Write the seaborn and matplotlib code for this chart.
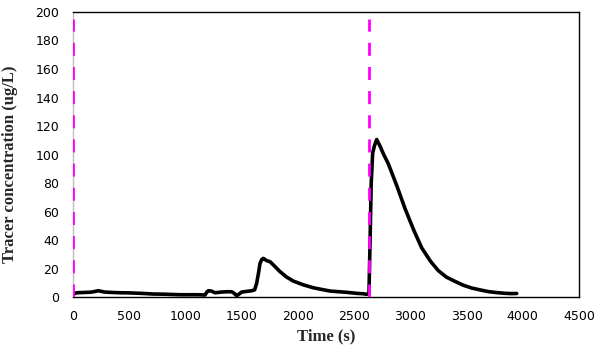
import seaborn as sns
import matplotlib.pyplot as plt
import pandas as pd

# tracer breakthrough curve
time_s = [0, 33, 100, 160, 225, 280, 350, 418, 500, 600, 714, 800, 880, 952, 1030, 1100,
          1150, 1174, 1190, 1203, 1230, 1263, 1300, 1322, 1370, 1411, 1435, 1456, 1475,
          1500, 1550, 1589, 1615, 1633, 1650, 1663, 1680, 1693, 1723, 1752, 1782, 1841,
          1900, 1959, 2050, 2137, 2200, 2286, 2350, 2434, 2520, 2580, 2612, 2632, 2642,
          2652, 2665, 2680, 2701, 2730, 2760, 2804, 2880, 2953, 3030, 3101, 3180, 3249,
          3320, 3397, 3470, 3546, 3620, 3693, 3770, 3842, 3900, 3946]
conc = [2.0, 3.0, 3.2, 3.4, 4.4, 3.5, 3.2, 3.0, 2.9, 2.6, 2.1, 2.0, 1.8, 1.6, 1.6, 1.6,
        1.5, 1.4, 3.5, 4.4, 4.2, 3.0, 3.3, 3.5, 3.7, 3.7, 2.5, 0.9, 2.0,
        3.5, 4.0, 4.4, 5.0, 9.6, 17.0, 23.6, 26.5, 27.1, 25.5, 24.8, 22.5, 17.8,
        14.0, 11.2, 8.5, 6.5, 5.5, 4.2, 3.8, 3.3, 2.6, 2.3, 1.9, 2.6, 40.0,
        80.0, 101.0, 106.0, 110.5, 106.0, 100.5, 93.5, 78.0, 62.0, 47.0, 34.5, 25.0, 18.5,
        14.0, 11.0, 8.3, 6.3, 5.0, 3.8, 3.1, 2.6, 2.4, 2.5]

# dashed markers for the two injections
injection_times = [0, 2630]
injection_top = 195

df = pd.DataFrame({"Time (s)": time_s, "Tracer concentration (ug/L)": conc})

sns.set_style("white")
fig = plt.figure(figsize=(6.02, 3.57), dpi=100)
ax = fig.add_axes([0.1213, 0.168, 0.8405, 0.7984])

sns.lineplot(data=df, x="Time (s)", y="Tracer concentration (ug/L)", ax=ax,
             color="black", linewidth=2.6, sort=False, estimator=None, zorder=3)
ax.vlines(injection_times, 0, injection_top, colors="#FF00FF", linewidth=2.0,
          linestyles=(0, (4.7, 4.0)), zorder=4)

ax.set_xlim(0, 4500)
ax.set_ylim(0, 200)
ax.set_xticks(range(0, 4501, 500))
ax.set_yticks(range(0, 201, 20))
ax.tick_params(axis="both", length=0, labelsize=9, colors="black")
ax.tick_params(axis="y", pad=10)
ax.tick_params(axis="x", pad=9)

lab_font = dict(family="Liberation Serif", fontweight="bold", fontsize=12)
ax.set_xlabel("Time (s)", **lab_font)
ax.set_ylabel("Tracer concentration (ug/L)", **lab_font)
ax.xaxis.set_label_coords(0.5, -0.109)
ax.yaxis.set_label_coords(-0.109, 0.467)

for side in ["top", "right", "bottom"]:
    ax.spines[side].set_color("black")
    ax.spines[side].set_linewidth(1.0)
ax.spines["left"].set_color("#BFBFBF")
ax.spines["left"].set_linewidth(1.0)

fig.savefig("out.png", dpi=100)
